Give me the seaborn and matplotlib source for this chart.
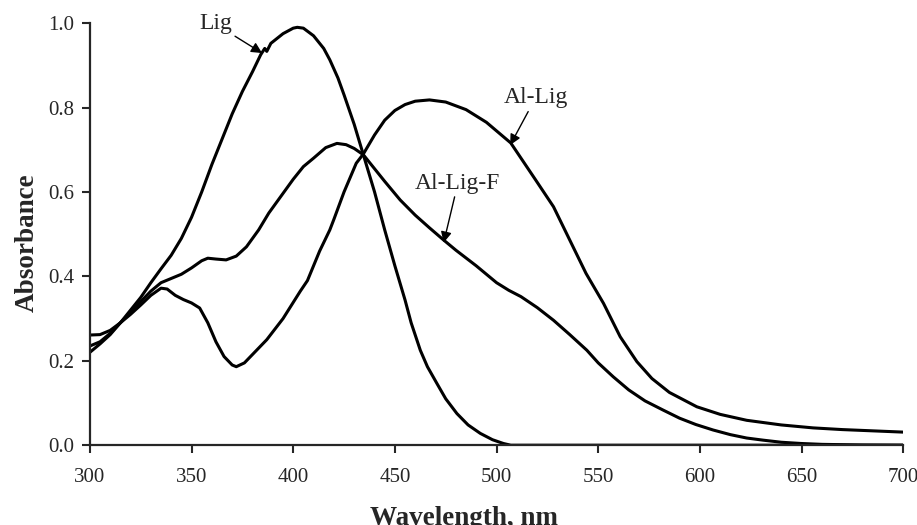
import matplotlib
matplotlib.use("Agg")
import matplotlib.pyplot as plt
import seaborn as sns
import pandas as pd

# wavelength (nm) / absorbance
lig_wl = [300, 305, 310, 315, 320, 325, 330, 335, 340, 345, 350, 355, 360, 365,
          370, 375, 380, 384, 386, 387, 389, 395, 400, 402, 405, 410, 415, 418,
          422, 425, 430, 434.5, 440, 445, 450, 455, 458, 462.5, 466, 470.7,
          475, 480.5, 486, 492, 498, 503.4, 507, 550, 600, 650, 700]
lig_abs = [0.22, 0.24, 0.262, 0.29, 0.32, 0.35, 0.385, 0.418, 0.45, 0.49, 0.54,
           0.6, 0.665, 0.725, 0.785, 0.838, 0.885, 0.925, 0.94, 0.933, 0.952,
           0.975, 0.988, 0.99, 0.988, 0.97, 0.94, 0.913, 0.87, 0.83, 0.76,
           0.688, 0.6, 0.51, 0.425, 0.344, 0.29, 0.225, 0.186, 0.146, 0.11,
           0.075, 0.048, 0.028, 0.013, 0.004, 0.0, 0.0, 0.0, 0.0, 0.0]

al_lig_wl = [300, 305, 310, 315, 320, 325, 330, 335, 338, 342, 346, 350, 354,
             358, 362, 366, 370, 372, 376, 380, 387, 395, 403.5, 407, 413, 418,
             420, 425, 431, 434.5, 440, 445, 450, 455, 460, 467, 475, 485, 495,
             507, 519, 528, 536, 544, 552.6, 560.8, 569, 576.4, 585, 598.5, 610,
             623, 640, 655.7, 670, 685, 700]
al_lig_abs = [0.261, 0.262, 0.272, 0.29, 0.31, 0.332, 0.355, 0.372, 0.37, 0.355,
              0.345, 0.337, 0.325, 0.29, 0.245, 0.21, 0.19, 0.186, 0.195, 0.215,
              0.25, 0.3, 0.365, 0.39, 0.46, 0.51, 0.535, 0.6, 0.668, 0.69, 0.735,
              0.77, 0.793, 0.807, 0.815, 0.818, 0.813, 0.795, 0.765, 0.716,
              0.63, 0.565, 0.486, 0.407, 0.336, 0.257, 0.198, 0.158, 0.125,
              0.091, 0.073, 0.059, 0.048, 0.041, 0.037, 0.034, 0.031]

al_lig_f_wl = [300, 305, 310, 315, 320, 325, 330, 335, 340, 345, 350, 355, 358,
               362, 367, 372, 377, 383, 388, 394, 400, 405, 410, 416, 421.5, 426,
               430, 434.5, 440, 445, 452.6, 460, 467, 474, 480, 490, 500, 506,
               512, 520, 528, 536, 544.4, 550, 557.4, 565, 573, 582, 590, 598,
               606.5, 615, 623, 631, 640, 650, 660, 680, 700]
al_lig_f_abs = [0.235, 0.245, 0.265, 0.29, 0.315, 0.34, 0.365, 0.385, 0.395,
                0.405, 0.42, 0.437, 0.443, 0.441, 0.439, 0.448, 0.47, 0.51, 0.55,
                0.59, 0.63, 0.66, 0.68, 0.705, 0.715, 0.712, 0.703, 0.688, 0.655,
                0.625, 0.581, 0.545, 0.515, 0.486, 0.462, 0.425, 0.385, 0.367,
                0.352, 0.326, 0.296, 0.262, 0.225, 0.195, 0.162, 0.131, 0.105,
                0.083, 0.064, 0.049, 0.036, 0.025, 0.017, 0.012, 0.007, 0.004,
                0.002, 0.0005, 0.0]

x_ticks = [300, 350, 400, 450, 500, 550, 600, 650, 700]
y_ticks = [0.0, 0.2, 0.4, 0.6, 0.8, 1.0]

sns.set_style("ticks")
plt.rcParams["font.family"] = ["Liberation Serif", "DejaVu Serif"]

fig, ax = plt.subplots(figsize=(9.17, 5.25), dpi=100)
fig.subplots_adjust(left=0.098, right=0.985, bottom=0.152, top=0.956)

for wl, ab in [(lig_wl, lig_abs), (al_lig_wl, al_lig_abs), (al_lig_f_wl, al_lig_f_abs)]:
    df = pd.DataFrame({"wl": wl, "abs": ab})
    sns.lineplot(data=df, x="wl", y="abs", ax=ax, color="black", lw=2.2,
                 sort=False, estimator=None)

ax.set_xlim(300, 700)
ax.set_ylim(0, 1.0)
ax.set_xticks(x_ticks)
ax.set_yticks(y_ticks)
ax.set_yticklabels([f"{v:.1f}" for v in y_ticks])
ax.tick_params(direction="out", length=5.5, width=1.5, labelsize=15)
ax.tick_params(axis="x", pad=11)
ax.tick_params(axis="y", pad=6)
for s in ["top", "right"]:
    ax.spines[s].set_visible(False)
for s in ["left", "bottom"]:
    ax.spines[s].set_linewidth(1.6)

ax.set_xlabel("Wavelength, nm", fontsize=19.5, fontweight="bold")
ax.set_ylabel("Absorbance", fontsize=19.5, fontweight="bold")
ax.xaxis.set_label_coords(0.46, -0.145)
ax.yaxis.set_label_coords(-0.062, 0.48)

arrow = dict(arrowstyle="-|>", color="black", lw=1.0, mutation_scale=16,
             shrinkA=0, shrinkB=0)
ax.annotate("Lig", xy=(384.7, 0.929), xytext=(361.7, 0.998), fontsize=17,
            ha="center", va="center", arrowprops=arrow)
ax.annotate("Al-Lig", xy=(506.7, 0.711), xytext=(519.2, 0.823), fontsize=17,
            ha="center", va="center", arrowprops=arrow)
ax.annotate("Al-Lig-F", xy=(474, 0.48), xytext=(481, 0.621), fontsize=17,
            ha="center", va="center", arrowprops=arrow)

fig.savefig("out.png", dpi=100)
